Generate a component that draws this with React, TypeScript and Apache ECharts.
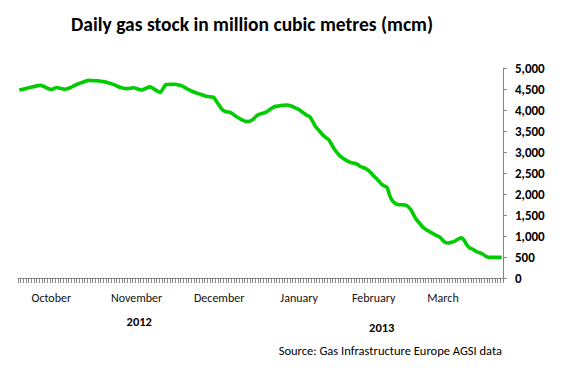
import React, { useEffect, useRef } from "react";
import * as echarts from "echarts";

const titleText = "Daily gas stock in million cubic metres (mcm)";
const sourceText = "Source: Gas Infrastructure Europe AGSI data";
const startDate = [2012, 9, 1];

const stock = [
  4475, 4490, 4505, 4525, 4535, 4550, 4565, 4580, 4590, 4565,
  4535, 4505, 4490, 4510, 4535, 4520, 4505, 4495, 4505, 4530,
  4560, 4595, 4620, 4645, 4665, 4690, 4705, 4700, 4698, 4695,
  4690, 4680, 4670, 4655, 4635, 4615, 4590, 4560, 4535, 4520,
  4510, 4512, 4520, 4528, 4510, 4490, 4475, 4500, 4530, 4550,
  4520, 4480, 4445, 4420, 4520, 4605, 4608, 4610, 4612, 4605,
  4590, 4575, 4540, 4500, 4470, 4440, 4415, 4395, 4375, 4350,
  4330, 4320, 4310, 4300, 4200, 4110, 4020, 3975, 3955, 3945,
  3910, 3860, 3820, 3785, 3755, 3730, 3725, 3750, 3795, 3860,
  3895, 3915, 3935, 3965, 4010, 4055, 4085, 4095, 4105, 4110,
  4120, 4115, 4095, 4070, 4040, 4005, 3960, 3915, 3870, 3840,
  3740, 3620, 3545, 3470, 3400, 3345, 3300, 3200, 3090, 3005,
  2930, 2870, 2825, 2790, 2760, 2740, 2732, 2700, 2655, 2630,
  2605, 2560, 2500, 2430, 2370, 2300, 2230, 2190, 2160, 1960,
  1840, 1780, 1750, 1745, 1742, 1735, 1690, 1620, 1500, 1390,
  1320, 1240, 1180, 1140, 1100, 1065, 1030, 1000, 960, 890,
  840, 835, 850, 865, 900, 940, 960, 890, 780, 715,
  690, 650, 615, 598, 565, 520, 495, 492, 492, 492,
  492, 492,
];

const monthLabels = ["October", "November", "December", "January", "February", "March"];
const monthLabelDates = ["2012-10-13", "2012-11-14", "2012-12-15", "2013-01-14", "2013-02-11", "2013-03-09"];
const yearLabels = ["2012", "2013"];
const yMin = 0;
const yMax = 5000;
const yInterval = 500;

const dates = stock.map((_, i) =>
  new Date(Date.UTC(startDate[0], startDate[1], startDate[2] + i)).toISOString().slice(0, 10)
);

const FONT = "Calibri, Carlito, Lato, sans-serif";

export default function App() {
  const ref = useRef<HTMLDivElement>(null);
  useEffect(() => {
    document.body.style.margin = "0";
    const chart = echarts.init(ref.current!, null, { renderer: "svg" });
    chart.setOption({
      animation: false,
      backgroundColor: "#ffffff",
      grid: { left: 18, right: 61, top: 68, bottom: 93 },
      xAxis: [
        {
          type: "category",
          data: dates,
          boundaryGap: true,
          axisLine: { show: true, lineStyle: { color: "#868686", width: 1 } },
          axisTick: { show: true, interval: 0, length: 5, lineStyle: { color: "#868686" } },
          axisLabel: {
            interval: (_i: number, v: string) => monthLabelDates.includes(v),
            formatter: (v: string) => monthLabels[monthLabelDates.indexOf(v)] ?? "",
            margin: 14,
            fontFamily: FONT,
            fontSize: 12,
            color: "#111",
          },
          splitLine: { show: false },
        },
        {
          type: "category",
          data: yearLabels,
          position: "bottom",
          boundaryGap: true,
          axisLine: { show: false },
          axisTick: { show: false },
          axisLabel: {
            margin: 37,
            fontFamily: FONT,
            fontSize: 12.5,
            fontWeight: "bold",
            color: "#000",
            formatter: (v: string) => (v === "2013" ? "{b|" + v + "}" : "{a|" + v + "}"),
            rich: {
              a: { fontFamily: FONT, fontSize: 12.5, fontWeight: "bold", color: "#000" },
              b: { fontFamily: FONT, fontSize: 12.5, fontWeight: "bold", color: "#000", padding: [6, 0, 0, 0] },
            },
          },
          splitLine: { show: false },
        },
      ],
      yAxis: {
        type: "value",
        position: "right",
        min: yMin,
        max: yMax,
        interval: yInterval,
        axisLine: { show: true, lineStyle: { color: "#868686", width: 1 } },
        axisTick: { show: true, length: 4, lineStyle: { color: "#868686" } },
        axisLabel: {
          margin: 12,
          fontFamily: FONT,
          fontSize: 13,
          fontWeight: "bold",
          color: "#000",
          formatter: (v: number) => v.toLocaleString("en-US"),
        },
        splitLine: { show: false },
      },
      series: [
        {
          type: "line",
          xAxisIndex: 0,
          data: stock,
          showSymbol: false,
          smooth: 0.2,
          lineStyle: { color: "#00cc00", width: 3.6 },
          itemStyle: { color: "#00cc00" },
        },
      ],
      graphic: [
        {
          type: "text",
          x: 252,
          y: 24,
          style: {
            text: titleText,
            fontFamily: FONT,
            fontSize: 19.5,
            fontWeight: "bold",
            fill: "#000",
            textAlign: "center",
            textVerticalAlign: "middle",
          },
        },
        {
          type: "text",
          x: 502,
          y: 350,
          style: {
            text: sourceText,
            fontFamily: FONT,
            fontSize: 12.5,
            fill: "#000",
            textAlign: "right",
            textVerticalAlign: "middle",
          },
        },
      ],
    });
    return () => chart.dispose();
  }, []);
  return <div ref={ref} style={{ width: 564, height: 371 }} />;
}
